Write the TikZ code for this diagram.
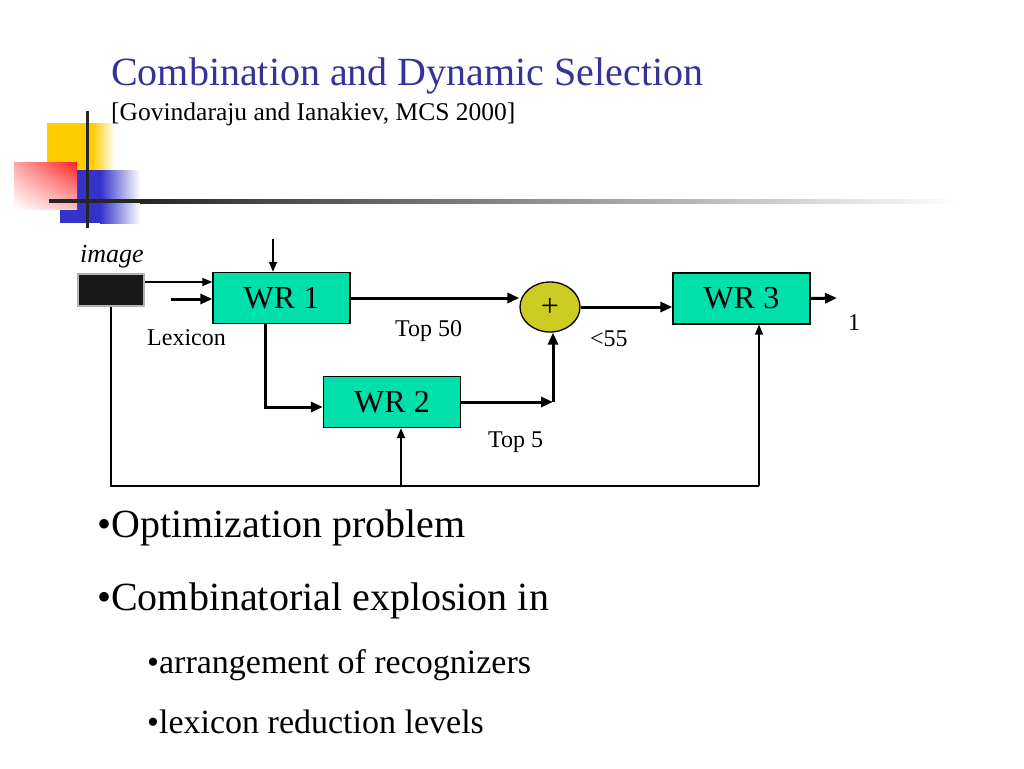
\documentclass[tikz,border=0pt]{standalone}
\usepackage{fontspec}
\setmainfont{Liberation Serif}
\usetikzlibrary{arrows.meta,shapes.geometric,shadings}
\definecolor{titleblue}{HTML}{333399}
\definecolor{wrgreen}{HTML}{00E0AA}
\definecolor{sumyellow}{HTML}{CCCC22}
\definecolor{logoyellow}{HTML}{FFCC00}
\definecolor{logoblue}{HTML}{3333CC}
\definecolor{logored}{HTML}{FF2222}
\begin{document}
\begin{tikzpicture}[x=1pt,y=-1pt,
  wr/.style={draw=black, line width=1.3pt, fill=wrgreen, minimum width=137pt, minimum height=51pt, inner sep=0pt, font=\fontsize{32}{32}\selectfont},
  sum/.style={shape=ellipse, draw=black, line width=1.3pt, fill=sumyellow, minimum width=60pt, minimum height=50pt, inner sep=0pt, font=\fontsize{32}{32}\selectfont},
  thinline/.style={line width=1.5pt},
  thinarrow/.style={line width=1.5pt, -{Triangle[length=10pt,width=8pt]}},
  thickarrow/.style={line width=3pt, -{Triangle[length=12pt,width=10pt]}},
  lbl/.style={anchor=base west, inner sep=0pt, font=\fontsize{24}{24}\selectfont}]
\useasboundingbox (0,0) rectangle (1024,768);

% logo
\fill[logoyellow] (47,123) rectangle (92,170);
\shade[left color=logoyellow, right color=white] (92,123) rectangle (115,170);
\fill[logoblue] (60,170) rectangle (100,223);
\shade[left color=logoblue, right color=white] (100,170) rectangle (140,223);
\shade[upper right=logored, upper left=logored!40!white, lower right=logored!30!white, lower left=white] (14,162) rectangle (77,209);
\fill[black!85] (85.5,111) rectangle (89,228);
\fill[black!85] (49,199) rectangle (140,203);
\shade[left color=black!85, right color=white] (140,199) rectangle (960,203);

% title
\node[anchor=base west, inner sep=0pt, text=titleblue, font=\fontsize{40}{40}\selectfont] (title) at (111,85) {Combination and Dynamic Selection};
\node[anchor=base west, inner sep=0pt, font=\fontsize{25.5}{25.5}\selectfont] (ref) at (111,120) {[Govindaraju and Ianakiev, MCS 2000]};

% diagram
\node[draw=gray!60, fill=black!90, line width=2pt, minimum width=66pt, minimum height=32pt] (img) at (111,290) {};
\node[anchor=base west, inner sep=0pt, font=\itshape\fontsize{26}{26}\selectfont] (imglbl) at (80,262) {image};
\node[wr] (wr1) at (281.5,298) {WR 1};
\node[wr] (wr2) at (392,402) {WR 2};
\node[wr] (wr3) at (741.5,298.5) {WR 3};
\node[sum] (plus) at (550,307) {+};

\coordinate (lex) at (171,299);
\coordinate (ctl) at (273,239);
\coordinate (out) at (837,298);
\coordinate (join) at (553,402);
\coordinate (fb) at (759,486);
\coordinate (wr2in) at ([xshift=9pt]wr2.south);

\draw[thinarrow] ([yshift=8pt]img.east) -- ([yshift=16pt]wr1.west);
\draw[thickarrow] (lex) -- (lex -| wr1.west);
\draw[thinarrow] (ctl) -- (ctl |- wr1.north);
\draw[thickarrow] ([xshift=-16.5pt]wr1.south) |- ([yshift=-5pt]wr2.west);
\draw[thickarrow] (wr1.east) -- (wr1.east -| plus.west);
\draw[thickarrow] (plus.east) -- (plus.east -| wr3.west);
\draw[thickarrow] (wr3.east) -- (out);
\draw[thickarrow] (wr2.east) -- (join);
\draw[thickarrow] (join) -- (join |- plus.south);
\draw[thinline] (img.south) |- (fb);
\draw[thinarrow] (fb) -- (fb |- wr3.south);
\draw[thinarrow] (wr2in |- fb) -- (wr2in);

\node[lbl] (lexlbl) at (147,345) {Lexicon};
\node[lbl] (top50) at (395,336) {Top 50};
\node[lbl] (lt55) at (590,346) {<55};
\node[lbl] (top5) at (488,447) {Top 5};
\node[lbl] (one) at (848,330) {1};

% bullets
\node[anchor=base west, inner sep=0pt, font=\fontsize{40}{40}\selectfont] (b1) at (97,537) {•Optimization problem};
\node[anchor=base west, inner sep=0pt, font=\fontsize{40}{40}\selectfont] (b2) at (97,610) {•Combinatorial explosion in};
\node[anchor=base west, inner sep=0pt, font=\fontsize{34}{34}\selectfont] (b3) at (147,673) {•arrangement of recognizers};
\node[anchor=base west, inner sep=0pt, font=\fontsize{34}{34}\selectfont] (b4) at (147,733) {•lexicon reduction levels};
\end{tikzpicture}
\end{document}
